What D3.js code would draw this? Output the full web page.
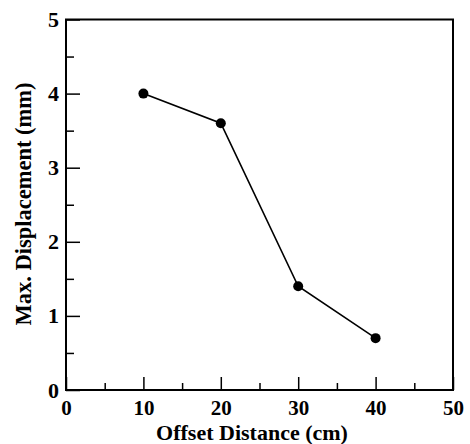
<!DOCTYPE html>
<html><head><meta charset="utf-8">
<script src="https://cdn.jsdelivr.net/npm/d3@7"></script>
<style>body{margin:0;background:#fff}svg{display:block}</style>
</head><body>
<script>
const offsets = [10, 20, 30, 40];
const displacement = [4.0, 3.6, 1.4, 0.7];
const xTicks = [0, 10, 20, 30, 40, 50];
const yTicks = [0, 1, 2, 3, 4, 5];
const xMinor = [5, 15, 25, 35, 45];
const yMinor = [0.5, 1.5, 2.5, 3.5, 4.5];

const W = 470, H = 444;
const m = {l: 66, r: 17, t: 19.5, b: 54};
const svg = d3.select("body").append("svg").attr("width", W).attr("height", H);
const x = d3.scaleLinear().domain([0, 50]).range([m.l, W - m.r]);
const y = d3.scaleLinear().domain([0, 5]).range([H - m.b, m.t]);
const font = "'Liberation Serif', 'Times New Roman', serif";

// frame
svg.append("rect").attr("x", x(0)).attr("y", y(5)).attr("width", x(50) - x(0)).attr("height", y(0) - y(5))
  .attr("fill", "none").attr("stroke", "#000").attr("stroke-width", 2);

// bottom axis
const xa = svg.append("g").attr("transform", `translate(0,${y(0)})`)
  .call(d3.axisBottom(x).tickValues(xTicks).tickFormat(d3.format("d")).tickSizeInner(-13).tickSizeOuter(0).tickPadding(10));
xa.select(".domain").remove();
xa.selectAll("line").attr("stroke-width", 1.5);
xa.selectAll("text").attr("font-family", font).attr("font-weight", "bold").attr("font-size", 21).attr("fill", "#000");
svg.append("g").attr("transform", `translate(0,${y(0)})`)
  .call(d3.axisBottom(x).tickValues(xMinor).tickSizeInner(-7).tickSizeOuter(0).tickFormat(""))
  .call(g => g.select(".domain").remove()).selectAll("line").attr("stroke-width", 1.5);

// left axis
const ya = svg.append("g").attr("transform", `translate(${x(0)},0)`)
  .call(d3.axisLeft(y).tickValues(yTicks).tickFormat(d3.format("d")).tickSizeInner(-14).tickSizeOuter(0).tickPadding(7));
ya.select(".domain").remove();
ya.selectAll("line").attr("stroke-width", 1.5);
ya.selectAll("text").attr("font-family", font).attr("font-weight", "bold").attr("font-size", 22).attr("fill", "#000");
svg.append("g").attr("transform", `translate(${x(0)},0)`)
  .call(d3.axisLeft(y).tickValues(yMinor).tickSizeInner(-8).tickSizeOuter(0).tickFormat(""))
  .call(g => g.select(".domain").remove()).selectAll("line").attr("stroke-width", 1.5);

// line + markers
const pts = offsets.map((d, i) => [d, displacement[i]]);
svg.append("path").datum(pts)
  .attr("d", d3.line().x(d => x(d[0])).y(d => y(d[1])))
  .attr("fill", "none").attr("stroke", "#000").attr("stroke-width", 1.6);
svg.selectAll("circle.pt").data(pts).join("circle")
  .attr("cx", d => x(d[0])).attr("cy", d => y(d[1])).attr("r", 5).attr("fill", "#000");

// titles
svg.append("text").attr("x", 252).attr("y", 440).attr("text-anchor", "middle")
  .attr("font-family", font).attr("font-weight", "bold").attr("font-size", 22).text("Offset Distance (cm)");
svg.append("text").attr("transform", `translate(31,204) rotate(-90)`).attr("text-anchor", "middle")
  .attr("font-family", font).attr("font-weight", "bold").attr("font-size", 22.5).text("Max. Displacement (mm)");
</script>
</body></html>
